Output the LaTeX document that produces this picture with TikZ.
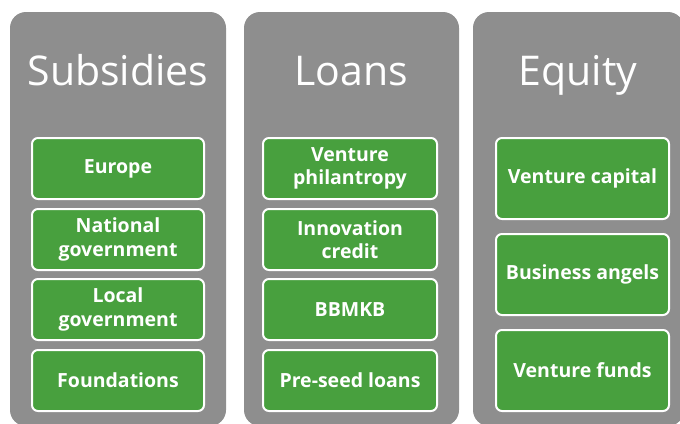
\documentclass[tikz,border=0pt]{standalone}
\usepackage{fontspec}
\setmainfont{Open Sans}
\definecolor{colgray}{RGB}{142,142,142}
\definecolor{boxgreen}{RGB}{72,160,62}
\begin{document}
\begin{tikzpicture}[x=1pt,y=-1pt,
  column/.style={fill=colgray, rounded corners=16pt},
  item/.style={draw=white, line width=2pt, fill=boxgreen, rounded corners=6pt,
    text=white, font=\bfseries\fontsize{19.5}{23.5}\selectfont, align=center, inner sep=0pt},
  itemA/.style={item, minimum width=172pt, minimum height=61pt},
  itemB/.style={item, minimum width=174pt, minimum height=61pt},
  itemC/.style={item, minimum width=173pt, minimum height=81pt},
  title/.style={text=white, font=\fontsize{41}{46}\selectfont, anchor=base, inner sep=0pt}]
\useasboundingbox (0,0) rectangle (680,423);
\clip (0,0) rectangle (680,423);
% columns
\fill[column] (10,12) rectangle (226,426);
\fill[column] (244,12) rectangle (459,426);
\fill[column] (473,12) rectangle (684,426);
% titles
\node[title] (tS) at (118,85) {Subsidies};
\node[title] (tL) at (351,85) {Loans};
\node[title] (tE) at (578,85) {Equity};
% Subsidies
\node[itemA] (s1) at (118,168.5) {Europe};
\node[itemA] (s2) at (118,239.5) {National\\government};
\node[itemA] (s3) at (118,309.5) {Local\\government};
\node[itemA] (s4) at (118,380.5) {Foundations};
% Loans
\node[itemB] (l1) at (350,168.5) {Venture\\philantropy};
\node[itemB] (l2) at (350,239.5) {Innovation\\credit};
\node[itemB] (l3) at (350,309.5) {BBMKB};
\node[itemB] (l4) at (350,380.5) {Pre-seed loans};
% Equity
\node[itemC] (e1) at (582.5,178.5) {Venture capital};
\node[itemC] (e2) at (582.5,274.5) {Business angels};
\node[itemC] (e3) at (582.5,370.5) {Venture funds};
\end{tikzpicture}
\end{document}
